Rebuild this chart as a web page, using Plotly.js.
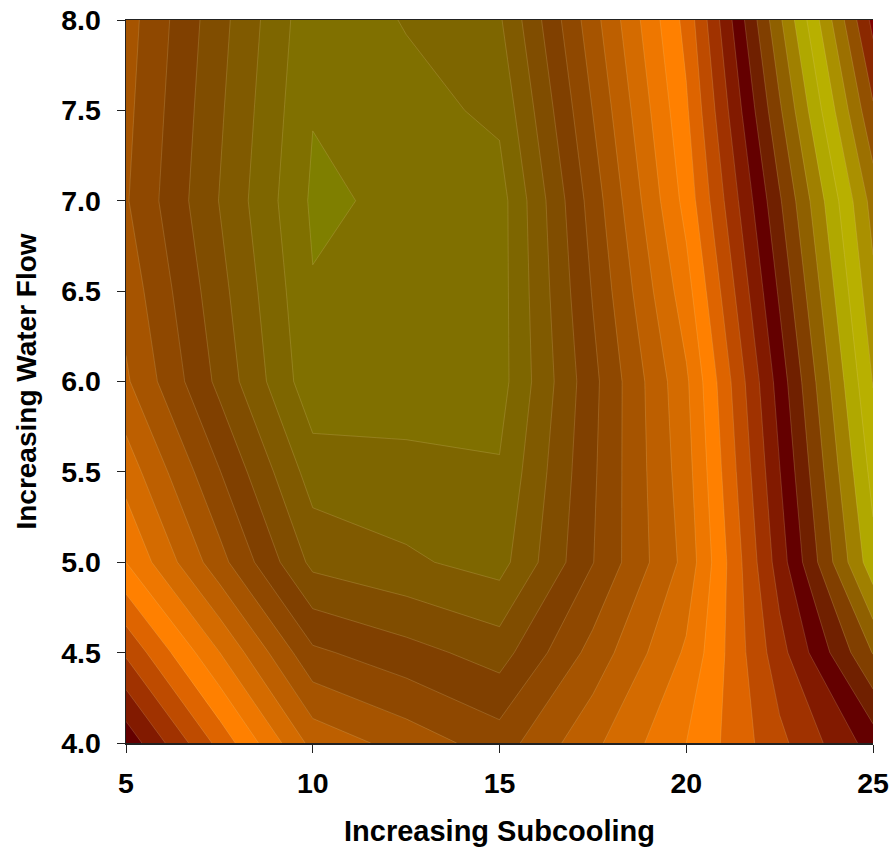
<!DOCTYPE html>
<html>
<head>
<meta charset="utf-8">
<script src="https://cdn.plot.ly/plotly-3.0.1.min.js"></script>
<style>html,body{margin:0;padding:0;background:#fff}#chart{width:890px;height:847px}</style>
</head>
<body>
<div id="chart"></div>
<script>
const subcooling = [5, 7.5, 10, 12.5, 15, 17.5, 20, 22.5, 25];
const waterFlow = [4, 4.5, 5, 5.5, 6, 6.5, 7, 7.5, 8];
const row4_0 = [16.68, 12.68, 8.67, 7.59, 6.50, 8.75, 11.00, 13.73, 16.45];
const row4_5 = [13.84, 10.02, 6.20, 5.38, 4.56, 7.36, 10.16, 14.61, 19.05];
const row5_0 = [11.00, 7.37, 3.73, 3.17, 2.61, 5.97, 9.32, 15.49, 21.65];
const row5_5 = [9.58, 6.05, 2.52, 2.31, 2.10, 5.84, 9.58, 15.96, 22.35];
const row6_0 = [8.15, 4.73, 1.30, 1.44, 1.58, 5.71, 9.83, 16.44, 23.05];
const row6_5 = [7.63, 4.35, 1.07, 1.32, 1.57, 6.08, 10.59, 17.16, 23.73];
const row7_0 = [7.10, 3.97, 0.83, 1.20, 1.56, 6.46, 11.35, 17.88, 24.40];
const row7_5 = [7.27, 4.16, 1.05, 1.63, 2.22, 7.03, 11.84, 18.85, 25.85];
const row8_0 = [7.44, 4.36, 1.27, 2.07, 2.87, 7.60, 12.33, 19.82, 27.30];
const bandColors = [
 '#7f7f00','#807000','#7e6600','#805a00','#804d00','#804000','#8f4800','#a65400','#bd5f00','#d46b00',
 '#ee7700','#ff8000','#de6400','#be4b00','#a03200','#821a00','#640000','#702000','#813f00','#8f6000',
 '#a08000','#b0a800','#b8b000','#aa9000','#9c7000','#925000','#8a2800','#800000'
];
const xTicks = [5, 10, 15, 20, 25];
const yTicks = [4, 4.5, 5, 5.5, 6, 6.5, 7, 7.5, 8];
const yTickText = ['4.0','4.5','5.0','5.5','6.0','6.5','7.0','7.5','8.0'];

const n = bandColors.length;
const scale = [];
bandColors.forEach((c, i) => { scale.push([i / n, c]); scale.push([(i + 1) / n, c]); });
const family = '"Liberation Sans", Arial, sans-serif';
const tickFont = {family: family, size: 28.5, color: '#000', weight: 'bold'};
const yTitleFont = {family: family, size: 28, color: '#000'};
const xTitleFont = {family: family, size: 29, color: '#000'};

Plotly.newPlot('chart', [{
  type: 'contour',
  x: subcooling,
  y: waterFlow,
  z: [row4_0, row4_5, row5_0, row5_5, row6_0, row6_5, row7_0, row7_5, row8_0],
  autocontour: false,
  contours: {start: 0, end: n, size: 1, coloring: 'fill', showlines: true},
  colorscale: scale,
  showscale: false,
  line: {color: 'rgba(235,215,150,0.4)', width: 0.5, smoothing: 0},
  hoverinfo: 'skip'
}], {
  width: 890, height: 847,
  margin: {l: 126, r: 17, t: 20, b: 104},
  paper_bgcolor: '#fff', plot_bgcolor: '#fff',
  showlegend: false,
  xaxis: {
    range: [5, 25], tickvals: xTicks, ticktext: xTicks.map(String),
    ticks: 'outside', ticklen: 8, tickwidth: 1, tickcolor: '#222',
    showline: true, mirror: true, linecolor: '#222', linewidth: 1.5,
    showgrid: false, zeroline: false, ticklabelstandoff: 6,
    tickfont: tickFont,
    title: {text: '<b>Increasing Subcooling</b>', font: xTitleFont, standoff: 31}
  },
  yaxis: {
    range: [4, 8], tickvals: yTicks, ticktext: yTickText,
    ticks: 'outside', ticklen: 8, tickwidth: 1, tickcolor: '#222',
    showline: true, linecolor: '#222', linewidth: 1.5,
    showgrid: false, zeroline: false, ticklabelstandoff: 10,
    tickfont: tickFont,
    title: {text: '<b>Increasing Water Flow</b>', font: yTitleFont, standoff: 16}
  }
}, {displayModeBar: false, staticPlot: true});
</script>
</body>
</html>
